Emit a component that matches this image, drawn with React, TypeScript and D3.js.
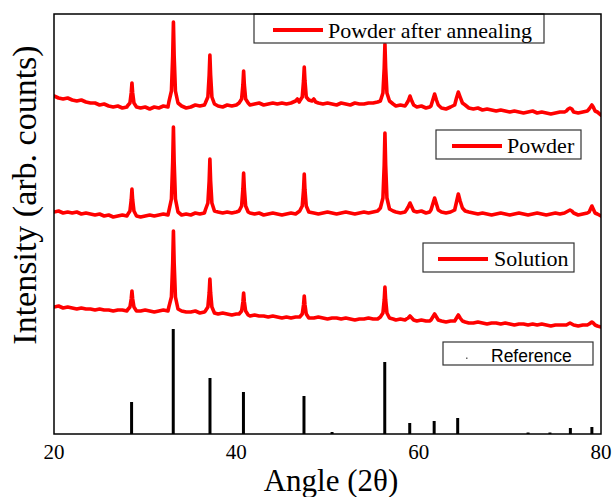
import React from 'react';
import * as d3 from 'd3';

type Pt = [number, number];

const annealed: Pt[] = [
  [20,338],[20.5,336],[21,335],[21.5,336],[22,334],[22.5,333],[23,334],[23.5,332],[24,331],[24.5,331],[25,329],[25.5,330],[26,328],[26.5,327],[27,328],[27.5,326],[28,327],
  [28.05,328],[28.33,331],[28.47,341],[28.55,351],[28.63,341],[28.77,331],[29.05,327],
  [29.5,326],[30,327],[30.5,325],[31,327],[31.5,326],[32,328],[32.5,327],
  [32.6,332],[32.88,343],[33.02,378],[33.1,412],[33.18,378],[33.32,343],[33.6,331],
  [34,328],[34.5,326],[35,327],[35.5,329],[36,328],[36.5,329],
  [36.6,331],[36.88,337],[37.02,359],[37.1,379],[37.18,359],[37.32,337],[37.6,330],
  [38,328],[38.5,327],[39,329],[39.5,328],[40,329],
  [40.3,331],[40.58,335],[40.72,349],[40.8,363],[40.88,349],[41.02,335],[41.3,331],
  [41.5,329],[42,330],[42.5,331],[43,329],[43.5,330],[44,331],[44.5,330],[45,331],[45.5,330],[46,331],[46.5,333],[46.7,335],[46.9,332],
  [46.95,333],[47.23,337],[47.37,353],[47.45,367],[47.53,353],[47.67,337],[47.95,334],
  [48.3,333],[48.5,335],[48.7,332],[49,331],[49.5,330],[50,331],[50.5,330],[51,329],[51.5,331],[52,330],[52.5,329],[53,331],[53.5,330],[54,330],[54.5,331],[55,331],[55.5,332],
  [55.8,333],[56.08,341],[56.22,366],[56.3,390],[56.38,366],[56.52,341],[56.8,333],
  [57.2,330],[57.5,328],[58,329],[58.5,328],
  [58.65,330],[58.85,333],[59.05,338],[59.25,333],[59.45,329],
  [59.8,327],[60.3,328],[60.8,326],[61.2,327],
  [61.35,328],[61.55,334],[61.75,340],[61.95,334],[62.15,329],
  [62.5,326],[63,325],[63.5,327],
  [63.95,329],[64.15,336],[64.35,342],[64.55,337],[64.8,331],
  [65.1,329],[65.5,326],[66,325],[66.5,326],[67,324],[67.5,325],[68,324],[68.5,323],[69,324],[69.5,323],[70,322],[70.5,323],[71,322],[71.5,321],[72,322],[72.5,323],[73,321],[73.5,322],[74,321],[74.5,320],[75,321],[75.5,322],[76,322],
  [76.2,323],[76.4,325],[76.6,326],[76.8,325],[77,322],
  [77.5,321],[78,322],[78.5,323],
  [78.7,325],[78.85,327],[79,329],[79.15,327],[79.35,323],
  [79.6,322],[80,319],
];

const powder: Pt[] = [
  [20,222],[20.5,223],[21,221],[21.5,222],[22,221],[22.5,222],[23,220],[23.5,221],[24,220],[24.5,219],[25,220],[25.5,218],[26,219],[26.5,217],[27,218],[27.5,219],[28,218],
  [28.05,219],[28.33,223],[28.47,234],[28.55,245],[28.63,234],[28.77,223],[29.05,218],
  [29.5,217],[30,218],[30.5,219],[31,218],[31.5,219],[32,220],[32.5,219],
  [32.6,223],[32.88,235],[33.02,272],[33.1,307],[33.18,272],[33.32,235],[33.6,222],
  [34,219],[34.5,220],[35,219],[35.5,221],[36,220],[36.5,221],
  [36.6,224],[36.88,231],[37.02,253],[37.1,275],[37.18,253],[37.32,231],[37.6,223],
  [38,222],[38.5,221],[39,222],[39.5,221],[40,222],
  [40.3,223],[40.58,228],[40.72,245],[40.8,261],[40.88,245],[41.02,228],[41.3,222],
  [41.5,221],[42,220],[42.5,221],[43,219],[43.5,220],[44,221],[44.5,220],[45,219],[45.5,220],[46,221],[46.5,220],
  [46.95,223],[47.23,228],[47.37,244],[47.45,260],[47.53,244],[47.67,228],[47.95,222],
  [48.5,221],[49,220],[49.5,221],[50,222],[50.5,221],[51,220],[51.5,221],[52,222],[52.5,221],[53,220],[53.5,221],[54,222],[54.5,221],[55,222],[55.5,223],
  [55.8,226],[56.08,236],[56.22,269],[56.3,301],[56.38,269],[56.52,236],[56.8,225],
  [57.2,223],[57.5,222],[58,221],[58.5,222],
  [58.65,224],[58.85,227],[59.05,231],[59.25,227],[59.45,223],
  [59.8,222],[60.3,223],[60.8,221],[61.2,222],
  [61.35,224],[61.55,230],[61.75,236],[61.95,230],[62.15,224],
  [62.5,222],[63,221],[63.5,222],
  [63.95,224],[64.15,232],[64.35,240],[64.55,233],[64.8,226],
  [65.1,223],[65.5,222],[66,221],[66.5,220],[67,221],[67.5,220],[68,219],[68.5,220],[69,221],[69.5,220],[70,219],[70.5,220],[71,221],[71.5,220],[72,219],[72.5,220],[73,221],[73.5,220],[74,219],[74.5,220],[75,221],[75.5,220],[76,221],
  [76.2,222],[76.4,223],[76.6,224],[76.8,223],[77,221],
  [77.5,219],[78,220],[78.5,221],
  [78.7,222],[78.85,225],[79,228],[79.15,225],[79.35,221],
  [79.6,220],[80,218],
];

const solution: Pt[] = [
  [20,127],[20.5,128],[21,126],[21.5,127],[22,126],[22.5,125],[23,126],[23.5,125],[24,125],[24.5,124],[25,125],[25.5,124],[26,124],[26.5,123],[27,124],[27.5,124],[28,123],
  [28.05,124],[28.33,127],[28.47,135],[28.55,143],[28.63,135],[28.77,127],[29.05,123],
  [29.5,123],[30,124],[30.5,123],[31,122],[31.5,123],[32,124],[32.5,123],
  [32.6,127],[32.88,137],[33.02,171],[33.1,203],[33.18,171],[33.32,137],[33.6,125],
  [34,123],[34.5,122],[35,122],[35.5,123],[36,121],[36.5,122],
  [36.6,123],[36.88,127],[37.02,141],[37.1,155],[37.18,141],[37.32,127],[37.6,121],
  [38,120],[38.5,121],[39,120],[39.5,119],[40,120],
  [40.3,120],[40.58,123],[40.72,132],[40.8,141],[40.88,132],[41.02,123],[41.3,119],
  [41.5,118],[42,119],[42.5,118],[43,118],[43.5,117],[44,118],[44.5,117],[45,116],[45.5,117],[46,116],[46.5,117],
  [46.95,117],[47.23,120],[47.37,129],[47.45,138],[47.53,129],[47.67,120],[47.95,116],
  [48.5,116],[49,117],[49.5,116],[50,115],[50.5,116],[51,116],[51.5,115],[52,116],[52.5,115],[53,114],[53.5,115],[54,115],[54.5,116],[55,115],[55.5,115],
  [55.8,117],[56.08,121],[56.22,134],[56.3,147],[56.38,134],[56.52,121],[56.8,116],
  [57.2,115],[57.5,114],[58,115],[58.5,114],
  [58.65,115],[58.85,116],[59.05,118],[59.25,116],[59.45,114],
  [59.8,113],[60.3,114],[60.8,113],[61.2,113],
  [61.35,114],[61.55,117],[61.75,120],[61.95,117],[62.15,114],
  [62.5,113],[63,112],[63.5,113],
  [63.95,113],[64.15,116],[64.35,119],[64.55,116],[64.8,113],
  [65.1,112],[65.5,111],[66,111],[66.5,112],[67,111],[67.5,110],[68,111],[68.5,111],[69,110],[69.5,111],[70,110],[70.5,109],[71,110],[71.5,110],[72,109],[72.5,110],[73,109],[73.5,110],[74,109],[74.5,108],[75,109],[75.5,109],[76,109],
  [76.2,109],[76.4,110],[76.6,111],[76.8,110],[77,109],
  [77.5,108],[78,109],[78.5,109],
  [78.7,110],[78.85,111],[79,112],[79.15,111],[79.35,109],
  [79.6,108],[80,107],
];

const refAngles = [28.51, 33.08, 37.11, 40.78, 47.42, 50.5, 56.28, 59.02, 61.7, 64.28, 72.0, 74.4, 76.64, 79.0];
const refHeights = [32, 105, 56, 42, 38, 2, 72, 11, 13, 16, 1.5, 1.5, 6, 7];

const xTicks = [20, 40, 60, 80];
const seriesLabels = ['Powder after annealing', 'Powder', 'Solution'];
const refLabel = 'Reference';
const xTitle = 'Angle (2\u03b8)';
const yTitle = 'Intensity (arb. counts)';

const SERIF = '"Liberation Serif", "Times New Roman", serif';
const SANS = '"Liberation Sans", Arial, sans-serif';

export default function App() {
  const W = 615, H = 497;
  const L = 54, R = 601, T = 14, B = 434;
  const x = d3.scaleLinear().domain([20, 80]).range([L, R]);
  const y = d3.scaleLinear().domain([0, 420]).range([B, T]);
  const line = d3.line<Pt>().x(d => x(d[0])).y(d => y(d[1]));
  const series = [annealed, powder, solution];

  const legends = [
    { x: 254, y: 14, w: 290, h: 29, lx: 273, ly: 30, tx: 328, ty: 38 },
    { x: 436, y: 130, w: 145, h: 29, lx: 452, ly: 146, tx: 507, ty: 153 },
    { x: 423, y: 243, w: 151, h: 29, lx: 438, ly: 259, tx: 494, ty: 266 },
  ];

  return (
    <svg width={W} height={H} style={{ position: 'absolute', left: 0, top: 0, background: '#fff' }}>
      <defs>
        <clipPath id="plot">
          <rect x={L} y={T} width={R - L} height={B - T} />
        </clipPath>
      </defs>
      <rect x={0} y={0} width={W} height={H} fill="#fff" />
      <g clipPath="url(#plot)">
        {refAngles.map((a, i) => (
          <line key={i} x1={x(a)} x2={x(a)} y1={y(0)} y2={y(refHeights[i])} stroke="#000" strokeWidth={3} />
        ))}
        {series.map((s, i) => (
          <path key={i} d={line(s) || ''} fill="none" stroke="#ff0000" strokeWidth={3.6} strokeLinejoin="round" strokeLinecap="round" />
        ))}
      </g>
      {legends.map((lg, i) => (
        <g key={i}>
          <rect x={lg.x} y={lg.y} width={lg.w} height={lg.h} fill="#fff" stroke="#333" strokeWidth={1.2} />
          <line x1={lg.lx} x2={lg.lx + 50} y1={lg.ly} y2={lg.ly} stroke="#ff0000" strokeWidth={4} />
          <text x={lg.tx} y={lg.ty} fontFamily={SERIF} fontSize={22} fill="#000">{seriesLabels[i]}</text>
        </g>
      ))}
      <g>
        <rect x={443} y={342} width={150} height={23} fill="#fff" stroke="#333" strokeWidth={1.2} />
        <rect x={466} y={357.5} width={1.5} height={1.5} fill="#666" />
        <text x={491} y={362} fontFamily={SANS} fontSize={17.5} fill="#000">{refLabel}</text>
      </g>
      <rect x={L} y={T} width={R - L} height={B - T} fill="none" stroke="#000" strokeWidth={1.5} />
      {xTicks.map(t => (
        <text key={t} x={x(t)} y={459} textAnchor="middle" fontFamily={SERIF} fontSize={21} fill="#000">{t}</text>
      ))}
      <text x={331} y={491} textAnchor="middle" fontFamily={SERIF} fontSize={31} fill="#000">{xTitle}</text>
      <text transform="translate(36,195) rotate(-90)" textAnchor="middle" fontFamily={SERIF} fontSize={34} fill="#000">{yTitle}</text>
    </svg>
  );
}
